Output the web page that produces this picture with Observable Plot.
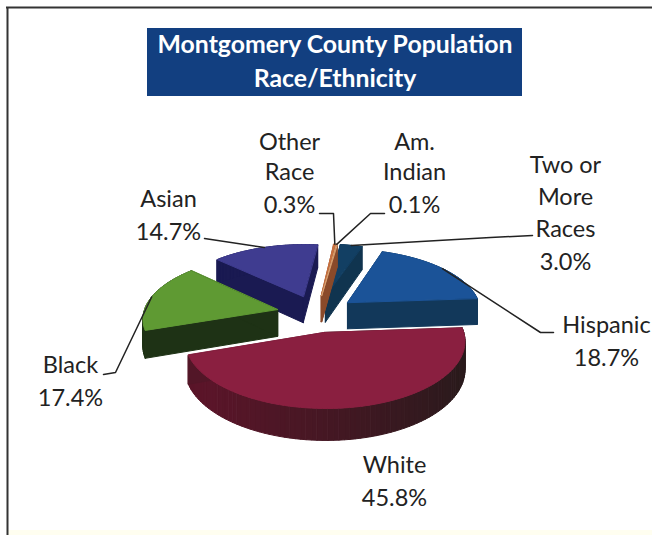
<!DOCTYPE html>
<html><head><meta charset="utf-8">
<script src="https://cdn.jsdelivr.net/npm/d3@7"></script>
<script src="https://cdn.jsdelivr.net/npm/@observablehq/plot@0.6"></script>
<style>html,body{margin:0;padding:0;background:#fff}svg{display:block}</style>
</head><body><div id="chart"></div>
<script>
// Data
const categories = ["White","Black","Asian","Other Race","Am. Indian","Two or More Races","Hispanic"];
const percents   = [45.8,17.4,14.7,0.3,0.1,3.0,18.7];
const labelLines = [["White","45.8%"],["Black","17.4%"],["Asian","14.7%"],["Other","Race","0.3%"],["Am.","Indian","0.1%"],["Two or","More","Races","3.0%"],["Hispanic","18.7%"]];
const titleLines = ["Montgomery County Population","Race/Ethnicity"];
// Styles
const topColors  = ["#8a1f40","#5f9a33","#3f3c90","#c9703f","#d9a070","#123f63","#1b5398"];
const sideColors = ["#4f1426","#1e3215","#1a1a52","#8a4a2a","#8a4a2a","#10344f","#12385a"];
// Layout of the labels: anchor x, line centre ys, elbow points for the leader
const labelLayout = [
 {x:394,y:[465,498],elbow:null},
 {x:70,y:[365,398],elbow:[[115,372],[103,374]]},
 {x:168,y:[199,232],elbow:[[204,238]]},
 {x:289,y:[142,172,205],elbow:[[333,213],[319,213]]},
 {x:414,y:[142,172,205],elbow:[[370,213],[384,213]]},
 {x:565,y:[165,197,229,262],elbow:[[490,237],[532,235]]},
 {x:606,y:[325,358],elbow:[[540,332],[553,332]]}
];
// Projection of the tilted pie plane
const cx=316, cy=313, A=134, B=62, K=0.12, DEPTH=27, EXPLODE=0.3, START=-4;
const rad=d=>d*Math.PI/180;
function project(u,v,lift=0){const f=1/(1-K*v);return [cx+A*u*f, cy+B*v*f+lift*f];}

let cum=START;
const total=d3.sum(percents);
const slices=percents.map((p,i)=>{
  const a0=cum, a1=cum+p/total*360; cum=a1;
  const mid=(a0+a1)/2, ox=EXPLODE*Math.cos(rad(mid)), oy=EXPLODE*Math.sin(rad(mid));
  const n=Math.max(2,Math.ceil((a1-a0)/2));
  const rim=d3.range(n+1).map(k=>{const t=rad(a0+(a1-a0)*k/n);return [ox+Math.cos(t),oy+Math.sin(t)];});
  const outline=[[ox,oy],...rim];
  return {i,mid,ox,oy,outline,anchor:project(ox+Math.cos(rad(mid)),oy+Math.sin(rad(mid)))};
});

const order=[5,3,4,2,6,1,0];
const polys=[];let id=0;
for(const i of order){
  const s=slices[i], o=s.outline;
  // side walls
  o.forEach((p,k)=>{
    const q=o[(k+1)%o.length];
    let col=sideColors[i];
    if(i===0){const mx=(p[0]+q[0])/2;col=d3.interpolateRgb("#5a1529","#2a1a1c")(Math.max(0,Math.min(1,(mx+0.7)/1.7)));}
    const qid=id++;
    for(const [pt,l] of [[p,0],[q,0],[q,DEPTH],[p,DEPTH]]){
      const [x,y]=project(pt[0],pt[1],l);polys.push({id:qid,x,y,c:col});
    }
  });
  // top face
  const tid=id++;
  for(const pt of o){const [x,y]=project(pt[0],pt[1]);polys.push({id:tid,x,y,c:topColors[i]});}
}

// Leaders
const leaders=[];
labelLayout.forEach((l,i)=>{ if(!l.elbow) return;
  const a=slices[i].anchor;
  [a,...l.elbow].forEach(p=>leaders.push({id:i,x:p[0],y:p[1]}));
});
// Labels
const texts=[];
labelLayout.forEach((l,i)=>labelLines[i].forEach((t,k)=>texts.push({t,x:l.x,y:l.y[k]})));

const font="Lato, 'Open Sans', sans-serif";
const plot=Plot.plot({
  width:652,height:535,margin:0,
  x:{domain:[0,652],range:[0,652],axis:null},
  y:{domain:[0,535],range:[0,535],axis:null},
  color:{type:"identity"},
  marks:[
    Plot.rect([{}],{x1:()=>8,x2:()=>652,y1:()=>530,y2:()=>535,fill:"#fffef0"}),
    Plot.ruleY([7],{x1:6,x2:652,stroke:"#333",strokeWidth:2}),
    Plot.ruleX([7],{y1:7,y2:535,stroke:"#333",strokeWidth:2}),
    Plot.rect([{}],{x1:()=>147,x2:()=>522,y1:()=>28,y2:()=>96,fill:"#123f80"}),
    Plot.text(titleLines,{x:()=>334.5,y:(d,i)=>[45,79][i],text:d=>d,fill:"#fff",fontFamily:font,fontWeight:700,fontSize:24.8}),
    Plot.line(polys,{x:"x",y:"y",z:"id",fill:"c",stroke:"c",strokeWidth:1,curve:"linear-closed"}),
    Plot.line(leaders,{x:"x",y:"y",z:"id",stroke:"#222",strokeWidth:1.5,curve:"linear"}),
    Plot.text(texts,{x:"x",y:"y",text:"t",fill:"#222",fontFamily:font,fontSize:23.5})
  ]
});
document.getElementById("chart").appendChild(plot);
</script></body></html>
